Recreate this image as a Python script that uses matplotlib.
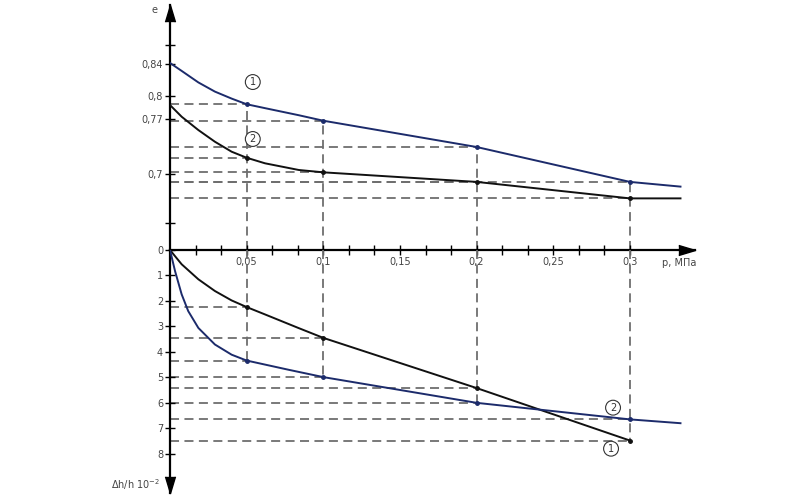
import matplotlib
matplotlib.use("Agg")
import matplotlib.pyplot as plt
import numpy as np

# load steps, MPa
p_steps = [0.05, 0.1, 0.2, 0.3]

# upper graph: void ratio e vs p
e1_p = [0, 0.0076, 0.0185, 0.0293, 0.0402, 0.05, 0.062, 0.084, 0.1, 0.2, 0.3, 0.333]
e1 = [0.8416, 0.8315, 0.8168, 0.8051, 0.7962, 0.789, 0.784, 0.775, 0.768, 0.7345, 0.690, 0.684]
e2_p = [0, 0.0076, 0.0185, 0.0293, 0.0402, 0.05, 0.062, 0.084, 0.1, 0.2, 0.3, 0.333]
e2 = [0.788, 0.7731, 0.7561, 0.7412, 0.7285, 0.7208, 0.7137, 0.7052, 0.7022, 0.690, 0.669, 0.669]
e1_pts = [0.789, 0.768, 0.7345, 0.690]
e2_pts = [0.7208, 0.7022, 0.690, 0.669]

# lower graph: relative settlement dh/h, 10^-2
s1_p = [0, 0.0076, 0.0185, 0.0293, 0.0402, 0.05, 0.062, 0.0837, 0.1, 0.2, 0.3]
s1 = [0, 0.56, 1.15, 1.61, 1.98, 2.24, 2.53, 3.06, 3.45, 5.42, 7.48]
s2_p = [0, 0.0033, 0.0076, 0.0119, 0.0185, 0.0293, 0.0402, 0.05, 0.0772, 0.1, 0.2, 0.3, 0.333]
s2 = [0, 0.83, 1.74, 2.40, 3.06, 3.71, 4.11, 4.34, 4.70, 4.99, 6.0, 6.65, 6.8]
s1_pts = [2.24, 3.45, 5.42, 7.48]
s2_pts = [4.34, 4.99, 6.0, 6.65]

x_ticks = [0.05, 0.1, 0.15, 0.2, 0.25, 0.3]
x_labels = ["0,05", "0,1", "0,15", "0,2", "0,25", "0,3"]
e_ticks = [0.84, 0.8, 0.77, 0.7]
e_labels = ["0,84", "0,8", "0,77", "0,7"]
e_minor = [0.865, 0.638]
s_ticks = [0, 1, 2, 3, 4, 5, 6, 7, 8]

navy = "#1c2b6b"
dash_c = "#6e6e6e"
txt_c = "#444444"
dash = (0, (5, 3))

fig = plt.figure(figsize=(8, 5), dpi=100)
L, W = 170 / 800, 525 / 800
ax1 = fig.add_axes([L, 0.5, W, 0.49])
ax2 = fig.add_axes([L, 7 / 500, W, 243 / 500])

xmax = 525 / 1533
for ax in (ax1, ax2):
    ax.set_xlim(0, xmax)
    for s in ("top", "right", "bottom", "left"):
        ax.spines[s].set_visible(False)
    ax.patch.set_alpha(0)
ax1.set_ylim(0.6032, 0.9155)
ax2.set_ylim(9.54, 0)

ax1.spines["left"].set_visible(True)
ax1.spines["bottom"].set_visible(True)
ax2.spines["left"].set_visible(True)
for s in (ax1.spines["left"], ax1.spines["bottom"], ax2.spines["left"]):
    s.set_linewidth(1.6)
    s.set_color("black")

# ticks
ax1.set_xticks(x_ticks)
ax1.set_xticklabels(x_labels)
ax1.set_xticks([k * 0.05 / 3 for k in range(1, 19)], minor=True)
ax1.set_yticks(e_ticks)
ax1.set_yticklabels(e_labels)
ax1.set_yticks(e_minor, minor=True)
ax2.set_xticks([])
ax2.set_yticks(s_ticks)
ax2.set_yticklabels([str(v) for v in s_ticks])
for ax in (ax1, ax2):
    ax.tick_params(which="both", direction="inout", length=7, width=1,
                   color="black", labelsize=7, labelcolor=txt_c, pad=1.5)

# dashed reference lines
for p, a, b in zip(p_steps, e1_pts, e2_pts):
    ax1.hlines([a, b], 0, p, colors=dash_c, lw=1.3, linestyles=dash, zorder=1)
    ax1.vlines(p, ax1.get_ylim()[0], max(a, b), colors=dash_c, lw=1.3,
               linestyles=dash, zorder=1)
for p, a, b in zip(p_steps, s1_pts, s2_pts):
    ax2.hlines([a, b], 0, p, colors=dash_c, lw=1.3, linestyles=dash, zorder=1)
    ax2.vlines(p, 0, max(a, b), colors=dash_c, lw=1.3, linestyles=dash, zorder=1)

# curves
ax1.plot(e1_p, e1, color=navy, lw=1.4, zorder=3, solid_joinstyle="round")
ax1.plot(e2_p, e2, color="#111111", lw=1.4, zorder=3, solid_joinstyle="round")
ax1.plot(p_steps, e1_pts, "o", color=navy, ms=2.5, zorder=4)
ax1.plot(p_steps, e2_pts, "o", color="#111111", ms=2.5, zorder=4)
ax2.plot(s1_p, s1, color="#111111", lw=1.4, zorder=3, solid_joinstyle="round")
ax2.plot(s2_p, s2, color=navy, lw=1.4, zorder=3, solid_joinstyle="round")
ax2.plot(p_steps, s1_pts, "o", color="#111111", ms=2.5, zorder=4)
ax2.plot(p_steps, s2_pts, "o", color=navy, ms=2.5, zorder=4)

# circled curve numbers
circ = dict(boxstyle="circle,pad=0.25", fc="white", ec="#333333", lw=0.8)
ax1.text(0.054, 0.8173, "1", ha="center", va="center", fontsize=7, color="#333333", bbox=circ, zorder=5)
ax1.text(0.054, 0.7447, "2", ha="center", va="center", fontsize=7, color="#333333", bbox=circ, zorder=5)
ax2.text(0.289, 6.19, "2", ha="center", va="center", fontsize=7, color="#333333", bbox=circ, zorder=5)
ax2.text(0.2877, 7.8, "1", ha="center", va="center", fontsize=7, color="#333333", bbox=circ, zorder=5)

# arrow heads
up = [(-0.3, -1), (0, 0), (0.3, -1)]
down = [(-0.3, 1), (0, 0), (0.3, 1)]
right = [(-1, 0.3), (0, 0), (-1, -0.3)]
ax1.plot(0, 1, marker=up, ms=24, color="black", transform=ax1.transAxes, clip_on=False)
ax1.plot(1, 0, marker=right, ms=24, color="black", transform=ax1.transAxes, clip_on=False)
ax2.plot(0, 0, marker=down, ms=24, color="black", transform=ax2.transAxes, clip_on=False)

# axis names
fig.text(154 / 800, 1 - 10 / 500, "e", ha="center", va="center", fontsize=7, color=txt_c)
fig.text(679 / 800, 1 - 263 / 500, "p, МПа", ha="center", va="center", fontsize=7, color=txt_c)
fig.text(136 / 800, 1 - 485 / 500, "Δh/h 10$^{-2}$", ha="center", va="center", fontsize=7, color=txt_c)

fig.savefig("out.png", dpi=100)
